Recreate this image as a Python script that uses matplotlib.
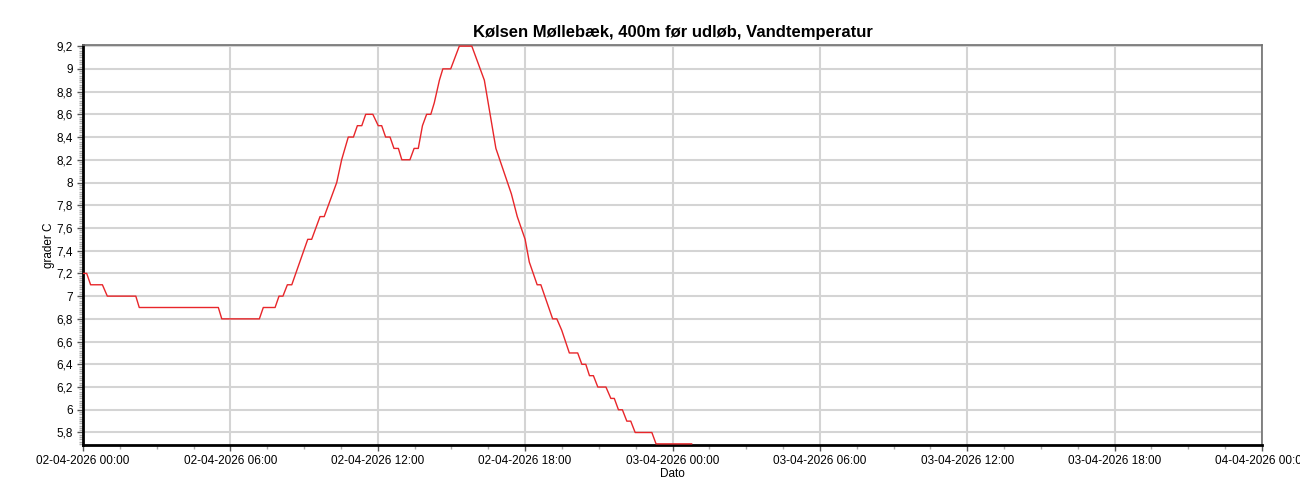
import matplotlib
matplotlib.use("Agg")
import matplotlib.pyplot as plt
import matplotlib.dates as mdates
from matplotlib.ticker import MultipleLocator, FuncFormatter
import pandas as pd

# hours after 02-04-2026 00:00 and water temperature (deg C) at each break in the curve
hours = [0.0, 0.15, 0.31, 0.79, 0.99, 2.15, 2.29, 5.51, 5.65, 7.18, 7.34, 7.82,
         7.98, 8.14, 8.32, 8.50, 9.15, 9.31, 9.65, 9.82, 10.33, 10.53, 10.80, 11.01,
         11.17, 11.35, 11.51, 11.80, 12.02, 12.16, 12.32, 12.50, 12.66, 12.84, 12.98,
         13.31, 13.48, 13.65, 13.82, 13.99, 14.16, 14.30, 14.51, 14.65, 14.97, 15.32,
         15.83, 16.34, 16.81, 17.44, 17.68, 18.00, 18.17, 18.49, 18.64, 19.12, 19.29,
         19.49, 19.80, 20.14, 20.31, 20.47, 20.62, 20.78, 20.96, 21.29, 21.49, 21.63,
         21.80, 21.96, 22.14, 22.30, 22.48, 23.16, 23.33, 24.78]
temps = [7.2, 7.2, 7.1, 7.1, 7.0, 7.0, 6.9, 6.9, 6.8, 6.8, 6.9, 6.9,
         7.0, 7.0, 7.1, 7.1, 7.5, 7.5, 7.7, 7.7, 8.0, 8.2, 8.4, 8.4,
         8.5, 8.5, 8.6, 8.6, 8.5, 8.5, 8.4, 8.4, 8.3, 8.3, 8.2,
         8.2, 8.3, 8.3, 8.5, 8.6, 8.6, 8.7, 8.9, 9.0, 9.0, 9.2,
         9.2, 8.9, 8.3, 7.9, 7.7, 7.5, 7.3, 7.1, 7.1, 6.8, 6.8,
         6.7, 6.5, 6.5, 6.4, 6.4, 6.3, 6.3, 6.2, 6.2, 6.1, 6.1,
         6.0, 6.0, 5.9, 5.9, 5.8, 5.8, 5.7, 5.7]

start = pd.Timestamp("2026-04-02 00:00")
end = pd.Timestamp("2026-04-04 00:00")
times = [start + pd.Timedelta(hours=h) for h in hours]

plt.rcParams['font.family'] = ['Liberation Sans', 'DejaVu Sans']

fig = plt.figure(figsize=(13, 5), dpi=100)
ax = fig.add_axes([83/1300, 55/500, (1262-83)/1300, 400/500])

ax.plot(times, temps, color='#e8262a', lw=1.0, zorder=3)

ax.set_xlim(start, end)
ax.set_ylim(5.69, 9.21)

# major ticks every 6 h, minor every 1.5 h
ax.xaxis.set_major_locator(mdates.HourLocator(byhour=[0, 6, 12, 18]))
minor_x = pd.date_range(start, end, freq='90min')
ax.set_xticks(mdates.date2num(minor_x), minor=True)
ax.xaxis.set_major_formatter(mdates.DateFormatter('%d-%m-%Y %H:%M'))

ax.yaxis.set_major_locator(MultipleLocator(0.2))
ax.yaxis.set_minor_locator(MultipleLocator(0.02))
ax.yaxis.set_major_formatter(FuncFormatter(lambda v, p: ('%g' % round(v, 2)).replace('.', ',')))

ax.grid(True, which='major', color='#d4d4d4', lw=1.5, zorder=0)
ax.tick_params(axis='both', which='major', labelsize=8.5, length=4, width=1, color='#555555')
ax.tick_params(axis='both', which='minor', length=3, width=1, color='#aaaaaa')
ax.tick_params(axis='x', pad=3)

for side in ['left', 'bottom']:
    ax.spines[side].set_linewidth(2)
    ax.spines[side].set_color('black')
for side in ['top', 'right']:
    ax.spines[side].set_linewidth(1.2)
    ax.spines[side].set_color('#707070')

ax.set_title('Kølsen Møllebæk, 400m før udløb, Vandtemperatur', fontsize=12,
             fontweight='bold', pad=6)
ax.set_ylabel('grader C', fontsize=8.5, labelpad=1)
ax.set_xlabel('Dato', fontsize=8.5, labelpad=1)

fig.savefig('out.png', dpi=100)
